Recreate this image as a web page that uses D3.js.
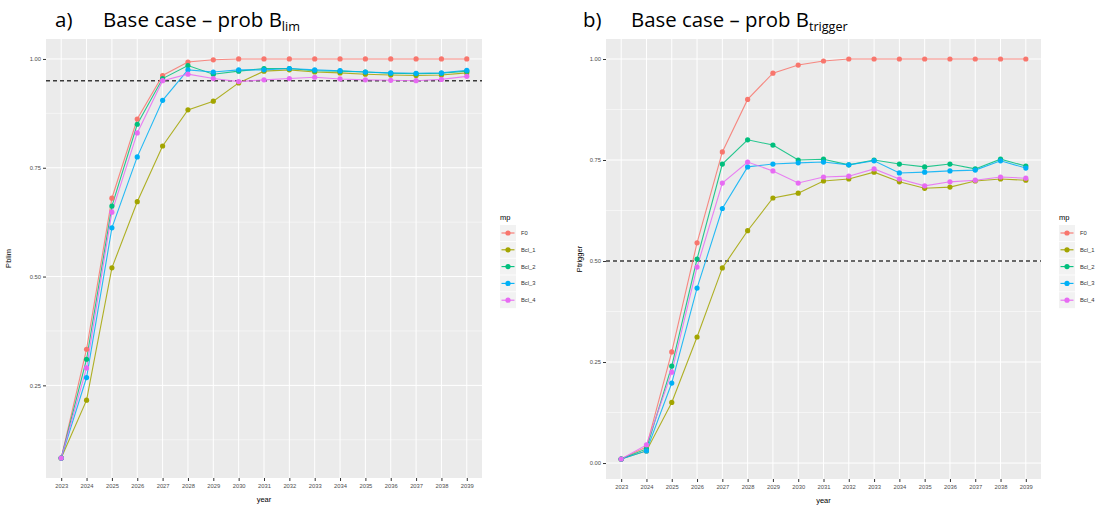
<!DOCTYPE html>
<html>
<head>
<meta charset="utf-8">
<script src="https://cdn.jsdelivr.net/npm/d3@7"></script>
<style>
  body { margin: 0; background: #fff; }
  svg { display: block; }
</style>
</head>
<body>
<svg id="chart" width="1105" height="518"></svg>
<script>
var years = ['2023','2024','2025','2026','2027','2028','2029','2030','2031','2032','2033','2034','2035','2036','2037','2038','2039'];
var mpNames = ['F0', 'Bcl_1', 'Bcl_2', 'Bcl_3', 'Bcl_4'];
var mpColors = ['#F8766D', '#A3A500', '#00BF7D', '#00B0F6', '#E76BF3'];

// panel a) probability above Blim
var blimF0   = [0.083, 0.333, 0.680, 0.862, 0.962, 0.993, 0.998, 1.000, 1.000, 1.000, 1.000, 1.000, 1.000, 1.000, 1.000, 1.000, 1.000];
var blimBcl1 = [0.083, 0.216, 0.520, 0.672, 0.800, 0.883, 0.903, 0.945, 0.972, 0.975, 0.970, 0.968, 0.965, 0.963, 0.962, 0.963, 0.968];
var blimBcl2 = [0.083, 0.310, 0.662, 0.850, 0.955, 0.985, 0.965, 0.972, 0.978, 0.978, 0.973, 0.972, 0.970, 0.967, 0.966, 0.967, 0.972];
var blimBcl3 = [0.083, 0.268, 0.612, 0.775, 0.905, 0.975, 0.970, 0.975, 0.975, 0.978, 0.975, 0.973, 0.970, 0.968, 0.967, 0.968, 0.974];
var blimBcl4 = [0.083, 0.290, 0.648, 0.830, 0.950, 0.965, 0.955, 0.948, 0.952, 0.955, 0.958, 0.954, 0.952, 0.951, 0.950, 0.953, 0.960];

// panel b) probability above Btrigger
var trigF0   = [0.010, 0.040, 0.275, 0.545, 0.770, 0.900, 0.965, 0.985, 0.995, 1.000, 1.000, 1.000, 1.000, 1.000, 1.000, 1.000, 1.000];
var trigBcl1 = [0.010, 0.030, 0.150, 0.312, 0.483, 0.575, 0.656, 0.668, 0.698, 0.703, 0.720, 0.696, 0.680, 0.683, 0.698, 0.703, 0.700];
var trigBcl2 = [0.010, 0.035, 0.240, 0.505, 0.740, 0.800, 0.787, 0.750, 0.752, 0.738, 0.750, 0.740, 0.733, 0.740, 0.728, 0.752, 0.735];
var trigBcl3 = [0.010, 0.030, 0.198, 0.433, 0.630, 0.733, 0.740, 0.743, 0.745, 0.738, 0.748, 0.718, 0.720, 0.723, 0.725, 0.748, 0.730];
var trigBcl4 = [0.010, 0.045, 0.225, 0.485, 0.693, 0.745, 0.723, 0.693, 0.708, 0.710, 0.728, 0.703, 0.686, 0.696, 0.700, 0.708, 0.705];

var yTicks = [0, 0.25, 0.5, 0.75, 1.0];
var yMinor = [0.125, 0.375, 0.625, 0.875];

var svg = d3.select('#chart');

function drawPanel(opt) {
  var g = svg.append('g');
  var series = opt.series;
  var all = d3.merge(series);
  var ext = d3.extent(all);
  var pad = (ext[1] - ext[0]) * 0.05;

  var x = d3.scalePoint().domain(years).range([opt.x0, opt.x1]).padding(0.6);
  var y = d3.scaleLinear().domain([ext[0] - pad, ext[1] + pad]).range([opt.y1, opt.y0]);

  g.append('rect')
    .attr('x', opt.x0).attr('y', opt.y0)
    .attr('width', opt.x1 - opt.x0).attr('height', opt.y1 - opt.y0)
    .attr('fill', '#EBEBEB');

  var inRange = function(v) { return v >= y.domain()[0] && v <= y.domain()[1]; };

  g.selectAll('line.minor').data(yMinor.filter(inRange)).enter().append('line')
    .attr('class', 'minor')
    .attr('x1', opt.x0).attr('x2', opt.x1)
    .attr('y1', function(d) { return y(d); }).attr('y2', function(d) { return y(d); })
    .attr('stroke', '#fff').attr('stroke-width', 0.5);

  g.selectAll('line.major').data(yTicks.filter(inRange)).enter().append('line')
    .attr('class', 'major')
    .attr('x1', opt.x0).attr('x2', opt.x1)
    .attr('y1', function(d) { return y(d); }).attr('y2', function(d) { return y(d); })
    .attr('stroke', '#fff').attr('stroke-width', 1);

  g.selectAll('line.vgrid').data(years).enter().append('line')
    .attr('class', 'vgrid')
    .attr('x1', function(d) { return x(d); }).attr('x2', function(d) { return x(d); })
    .attr('y1', opt.y0).attr('y2', opt.y1)
    .attr('stroke', '#fff').attr('stroke-width', 1);

  // dashed reference line
  g.append('line')
    .attr('x1', opt.x0).attr('x2', opt.x1)
    .attr('y1', y(opt.refLine)).attr('y2', y(opt.refLine))
    .attr('stroke', '#3a3a3a').attr('stroke-width', 1.4)
    .attr('stroke-dasharray', '4,3');

  var line = d3.line()
    .x(function(d, i) { return x(years[i]); })
    .y(function(d) { return y(d); });

  series.forEach(function(s, k) {
    g.append('path')
      .attr('d', line(s))
      .attr('fill', 'none')
      .attr('stroke', mpColors[k])
      .attr('stroke-width', 1.1)
      .attr('stroke-opacity', 0.85);
  });

  series.forEach(function(s, k) {
    g.selectAll('circle.s' + k).data(s).enter().append('circle')
      .attr('class', 's' + k)
      .attr('cx', function(d, i) { return x(years[i]); })
      .attr('cy', function(d) { return y(d); })
      .attr('r', 2.6)
      .attr('fill', mpColors[k]);
  });

  // axes
  var yAxis = d3.axisLeft(y).tickValues(yTicks.filter(inRange)).tickSize(3).tickPadding(2)
    .tickFormat(d3.format('.2f'));
  var ya = g.append('g').attr('transform', 'translate(' + opt.x0 + ',0)').call(yAxis);
  ya.select('.domain').remove();
  ya.selectAll('line').attr('stroke', '#333');
  ya.selectAll('text').attr('fill', '#4D4D4D').style('font-size', '5.8px')
    .style('font-family', 'Liberation Sans, Arial, sans-serif');

  var xAxis = d3.axisBottom(x).tickSize(3).tickPadding(3);
  var xa = g.append('g').attr('transform', 'translate(0,' + opt.y1 + ')').call(xAxis);
  xa.select('.domain').remove();
  xa.selectAll('line').attr('stroke', '#333');
  xa.selectAll('text').attr('fill', '#4D4D4D').style('font-size', '5.8px')
    .style('font-family', 'Liberation Sans, Arial, sans-serif');

  g.append('text')
    .attr('x', (opt.x0 + opt.x1) / 2).attr('y', opt.y1 + 24)
    .attr('text-anchor', 'middle')
    .style('font-family', 'Liberation Sans, Arial, sans-serif')
    .style('font-size', '7.5px')
    .text('year');

  g.append('text')
    .attr('transform', 'translate(' + opt.yTitleX + ',' + ((opt.y0 + opt.y1) / 2) + ') rotate(-90)')
    .attr('text-anchor', 'middle')
    .style('font-family', 'Liberation Sans, Arial, sans-serif')
    .style('font-size', '7.5px')
    .text(opt.yTitle);

  // legend
  var lg = g.append('g').attr('transform', 'translate(' + opt.legendX + ',0)');
  lg.append('text').attr('x', 0).attr('y', 220)
    .style('font-family', 'Liberation Sans, Arial, sans-serif')
    .style('font-size', '7.5px')
    .text('mp');
  var items = lg.selectAll('g.item').data(mpNames).enter().append('g')
    .attr('class', 'item')
    .attr('transform', function(d, i) { return 'translate(0,' + (225 + i * 16.8) + ')'; });
  items.append('rect').attr('x', 0).attr('y', 0).attr('width', 16).attr('height', 16)
    .attr('fill', '#F2F2F2');
  items.append('line').attr('x1', 1.5).attr('x2', 14.5).attr('y1', 8).attr('y2', 8)
    .attr('stroke', function(d, i) { return mpColors[i]; }).attr('stroke-width', 1.1);
  items.append('circle').attr('cx', 8).attr('cy', 8).attr('r', 2.6)
    .attr('fill', function(d, i) { return mpColors[i]; });
  items.append('text').attr('x', 21).attr('y', 10)
    .attr('fill', '#333')
    .style('font-family', 'Liberation Sans, Arial, sans-serif')
    .style('font-size', '5.8px')
    .text(function(d) { return d; });

  // panel heading
  var head = svg.append('text')
    .attr('y', 27)
    .style('font-family', 'Open Sans, Lato, sans-serif')
    .style('font-size', '19px')
    .attr('fill', '#000');
  head.append('tspan').attr('x', opt.titleX).text(opt.label);
  var main = head.append('tspan').attr('x', opt.titleX + 48).text('Base case \u2013 prob B');
  // fit heading width to the reference
  var w = main.node().getComputedTextLength();
  var fs = 19 * opt.titleW / w;
  head.style('font-size', fs + 'px');
  head.append('tspan').attr('dy', 4).style('font-size', (fs * 0.62) + 'px').text(opt.sub);
}

drawPanel({
  x0: 46, x1: 482, y0: 39, y1: 478,
  series: [blimF0, blimBcl1, blimBcl2, blimBcl3, blimBcl4],
  refLine: 0.95, yTitle: 'Pblim', yTitleX: 11,
  legendX: 500, titleX: 55, label: 'a)', sub: 'lim', titleW: 179
});

drawPanel({
  x0: 606, x1: 1041, y0: 39, y1: 479,
  series: [trigF0, trigBcl1, trigBcl2, trigBcl3, trigBcl4],
  refLine: 0.5, yTitle: 'Ptrigger', yTitleX: 582,
  legendX: 1059, titleX: 583, label: 'b)', sub: 'trigger', titleW: 178
});
</script>
</body>
</html>
